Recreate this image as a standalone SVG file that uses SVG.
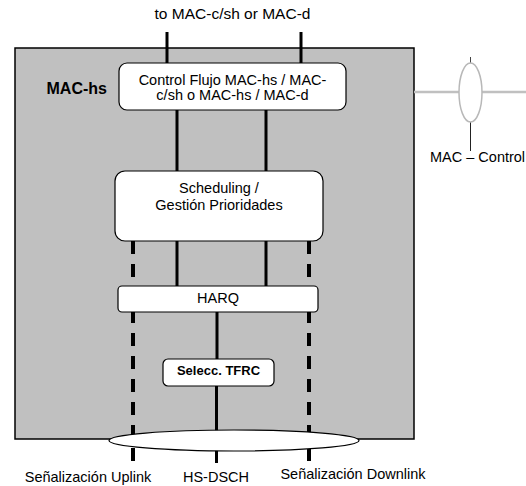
<svg xmlns="http://www.w3.org/2000/svg" width="526" height="486" viewBox="0 0 526 486">
<style>
text{font-family:"Liberation Sans",Arial,sans-serif;font-size:14.5px;fill:#000}
.c{text-anchor:middle}
.b{font-weight:bold}
.box{fill:#fff;stroke:#000;stroke-width:1.2}
.s{stroke:#000;stroke-width:3;fill:none}
.d{stroke:#000;stroke-width:4;stroke-dasharray:13 10;fill:none}
</style>
<rect width="526" height="486" fill="#fff"/>
<g id="mac-hs">
<rect x="15" y="48" width="399" height="391" fill="#c0c0c0" stroke="#000" stroke-width="1.5"/>
<text class="b" x="46.5" y="94" style="font-size:16px">MAC-hs</text>
</g>
<g id="connectors">
<line class="s" x1="167" y1="32" x2="167" y2="63"/>
<line class="s" x1="301" y1="32" x2="301" y2="63"/>
<line class="s" x1="177" y1="110" x2="177" y2="286"/>
<line class="s" x1="266" y1="110" x2="266" y2="286"/>
<line class="d" x1="133" y1="241" x2="133" y2="462"/>
<line class="d" x1="309" y1="241" x2="309" y2="462"/>
<line class="s" x1="217" y1="312" x2="217" y2="359"/>
<line class="s" x1="216.5" y1="386" x2="216.5" y2="463"/>
<line x1="414" y1="92" x2="526" y2="92" stroke="#c0c0c0" stroke-width="2.5"/>
<line x1="470.5" y1="57" x2="470.5" y2="63" stroke="#444" stroke-width="1"/>
<line x1="470.5" y1="122" x2="470.5" y2="151" stroke="#222" stroke-width="1"/>
</g>
<g id="control">
<rect class="box" x="119" y="63" width="227" height="47" rx="8"/>
<text class="c" x="232.5" y="85">Control Flujo MAC-hs / MAC-</text>
<text class="c" x="232.5" y="100">c/sh o MAC-hs / MAC-d</text>
</g>
<g id="scheduling">
<rect class="box" x="115" y="171" width="208" height="70" rx="10"/>
<text class="c" x="219" y="193">Scheduling /</text>
<text class="c" x="219" y="210">Gestión Prioridades</text>
</g>
<g id="harq">
<rect class="box" x="118" y="286" width="200" height="26" rx="4"/>
<text class="c" x="218" y="303">HARQ</text>
</g>
<g id="tfrc">
<rect class="box" x="163" y="359" width="111" height="27" rx="5"/>
<text class="c b" x="218.5" y="375" style="font-size:13px">Selecc. TFRC</text>
</g>
<g id="hs-dsch-bundle">
<ellipse cx="234" cy="440.5" rx="125" ry="10.5" fill="#fff" stroke="#000" stroke-width="1.2"/>
</g>
<g id="mac-control">
<ellipse cx="470.5" cy="92.5" rx="11.5" ry="29.5" fill="#fff" stroke="#b8b8b8" stroke-width="1.5"/>
<text x="430" y="162">MAC – Control</text>
</g>
<g id="labels">
<text class="c" x="232.5" y="19" style="font-size:15.5px">to MAC-c/sh or MAC-d</text>
<text class="c" x="88" y="482">Señalización Uplink</text>
<text class="c" x="216" y="482">HS-DSCH</text>
<text class="c" x="353" y="479">Señalización Downlink</text>
</g>
</svg>
